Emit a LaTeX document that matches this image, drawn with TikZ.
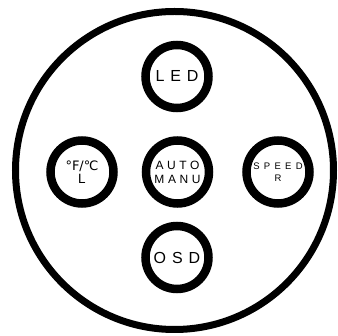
\documentclass[tikz,border=0pt]{standalone}
\usepackage{fontspec}
\setmainfont{Liberation Sans}
\newfontfamily\dvs{DejaVu Sans}
\begin{document}
\begin{tikzpicture}[x=1pt,y=-1pt,
  ring/.style={circle,draw=black,line width=8.5pt,minimum size=63pt,inner sep=0pt,align=center},
  outer/.style={draw=black,line width=7pt}]
\useasboundingbox (0,0) rectangle (338,336);
\draw[outer] (174.5,170.5) circle[radius=159];
\node[ring,font=\fontsize{16}{16}\selectfont\addfontfeature{LetterSpace=37}] (led) at (177,76.5) {LED};
\node[ring,font=\fontsize{12}{14}\selectfont\addfontfeature{LetterSpace=30}] (auto) at (177.5,172) {AUTO\\MANU};
\node[ring,font=\fontsize{13.5}{14}\selectfont] (temp) at (82,172) {{\dvs\fontsize{13}{13}\selectfont °F∕℃}\\[-1pt]L};
\node[ring,font=\fontsize{9.5}{11.5}\selectfont\addfontfeature{LetterSpace=45}] (speed) at (278,172) {SPEED\\R};
\node[ring,font=\fontsize{16}{16}\selectfont\addfontfeature{LetterSpace=37}] (osd) at (177,257.5) {OSD};
\end{tikzpicture}
\end{document}
